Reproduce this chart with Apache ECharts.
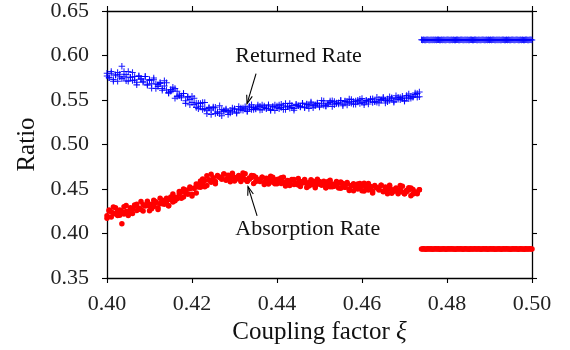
<!DOCTYPE html>
<html><head><meta charset="utf-8">
<script src="https://cdn.jsdelivr.net/npm/echarts@6/dist/echarts.min.js"></script>
<style>html,body{margin:0;padding:0;background:#fff}#c{width:570px;height:350px}</style>
</head><body><div id="c"></div>
<script>
// Coupling factor sweep (before the jump)
const xSweep = [
0.4000,0.4005,0.4010,0.4015,0.4020,0.4025,0.4030,0.4035,0.4040,0.4045,0.4050,0.4055,0.4060,0.4065,0.4070,0.4075,0.4080,0.4085,0.4090,0.4095,
0.4100,0.4105,0.4110,0.4115,0.4120,0.4125,0.4130,0.4135,0.4140,0.4145,0.4150,0.4155,0.4160,0.4165,0.4170,0.4175,0.4180,0.4185,0.4190,0.4195,
0.4200,0.4205,0.4210,0.4215,0.4220,0.4225,0.4230,0.4235,0.4240,0.4245,0.4250,0.4255,0.4260,0.4265,0.4270,0.4275,0.4280,0.4285,0.4290,0.4295,
0.4300,0.4305,0.4310,0.4315,0.4320,0.4325,0.4330,0.4335,0.4340,0.4345,0.4350,0.4355,0.4360,0.4365,0.4370,0.4375,0.4380,0.4385,0.4390,0.4395,
0.4400,0.4405,0.4410,0.4415,0.4420,0.4425,0.4430,0.4435,0.4440,0.4445,0.4450,0.4455,0.4460,0.4465,0.4470,0.4475,0.4480,0.4485,0.4490,0.4495,
0.4500,0.4505,0.4510,0.4515,0.4520,0.4525,0.4530,0.4535,0.4540,0.4545,0.4550,0.4555,0.4560,0.4565,0.4570,0.4575,0.4580,0.4585,0.4590,0.4595,
0.4600,0.4605,0.4610,0.4615,0.4620,0.4625,0.4630,0.4635,0.4640,0.4645,0.4650,0.4655,0.4660,0.4665,0.4670,0.4675,0.4680,0.4685,0.4690,0.4695,
0.4700,0.4705,0.4710,0.4715,0.4720,0.4725,0.4730,0.4735];

// Returned rate, two runs of the sweep
const returnedRunA = [
.580,.575,.582,.573,.578,.571,.579,.588,.576,.5715,
.582,.5755,.572,.5765,.567,.5773,.5737,.570,.5763,.5667,
.573,.5683,.5747,.563,.5673,.5687,.563,.5717,.5613,.558,
.5617,.5643,.552,.5598,.5547,.5545,.5573,.5492,.553,.5447,
.5543,.545,.5467,.5403,.546,.5472,.5403,.5345,.5417,.5388,
.542,.5348,.5357,.5435,.5323,.5382,.5388,.5367,.5353,.541,
.5395,.5351,.539,.5411,.5385,.5424,.5373,.5413,.5446,.5393,
.5406,.5425,.5389,.5444,.5415,.5404,.5435,.5382,.5424,.5443,
.5414,.5403,.5452,.5435,.5394,.5425,.5462,.5415,.5404,.5447,
.5436,.5426,.5464,.5418,.545,.5404,.5466,.5444,.5434,.5466,
.542,.5458,.549,.5432,.5452,.5472,.5492,.5446,.5466,.5456,
.5494,.5435,.549,.5479,.5468,.5505,.5452,.5489,.5478,.5461,
.5516,.547,.549,.5456,.5506,.5514,.5486,.5476,.5508,.5498,
.553,.5466,.551,.5494,.5526,.5486,.5548,.5508,.5528,.5518,
.549,.555,.5513,.5543,.5531,.5579,.5572,.5536];

const returnedRunB = [
.577,.575,.580,.571,.578,.581,.576,.574,.582,.5785,
.571,.5755,.581,.5725,.570,.5763,.5737,.571,.5763,.5677,
.572,.5633,.5727,.568,.5653,.5697,.561,.5657,.5693,.558,
.5597,.5613,.563,.5538,.5557,.5525,.5573,.5462,.554,.5507,
.5473,.552,.5417,.5463,.543,.5392,.5473,.5385,.5407,.5338,
.541,.5418,.5367,.5345,.5393,.5372,.540,.5337,.5383,.5368,
.5401,.5363,.5426,.5387,.5409,.540,.5373,.5431,.5392,.5417,
.540,.5443,.5431,.539,.5433,.5404,.5447,.5394,.5424,.5383,
.5432,.5445,.5416,.5393,.546,.5425,.5408,.5439,.5386,.5453,
.5436,.542,.5464,.5412,.5456,.5434,.5478,.5414,.5446,.546,
.5432,.5494,.5442,.5432,.5464,.549,.5426,.5482,.546,.5468,
.5494,.5453,.5484,.5443,.551,.5463,.5482,.5453,.5496,.5509,
.5474,.5446,.5496,.5486,.5512,.5472,.548,.553,.5466,.5504,
.5518,.5496,.548,.5536,.552,.5474,.5512,.5532,.5504,.5542,
.549,.5532,.5567,.5519,.5537,.5561,.553,.559];

// Absorption rate, two runs of the sweep
const absorptionRunA = [
.420,.4253,.4185,.4298,.422,.4253,.4205,.411,.430,.4246,
.4203,.4289,.4275,.4321,.4258,.4274,.436,.4254,.4318,.4341,
.4305,.4279,.4373,.4346,.427,.4337,.4373,.433,.4397,.4313,
.438,.4443,.4367,.440,.4443,.4397,.450,.4458,.4445,.4503,
.442,.4508,.4555,.4523,.452,.4613,.4595,.4538,.460,.4665,
.4594,.4583,.4644,.4631,.4617,.4668,.4606,.4646,.4582,.4662,
.463,.4612,.4651,.4585,.4631,.467,.4588,.4609,.4629,.465,
.4583,.4603,.4584,.4631,.455,.462,.4603,.4586,.4633,.4559,
.4606,.4588,.4562,.4632,.4566,.4588,.4538,.46,.4606,.4564,
.4546,.4585,.4568,.4607,.4518,.4573,.4548,.4587,.453,.4609,
.4552,.4574,.4556,.4514,.4584,.4526,.4556,.453,.4584,.4566,
.4508,.4562,.452,.4574,.45,.4538,.448,.4542,.4556,.4514,
.448,.4566,.4516,.449,.4528,.4454,.454,.4514,.4488,.4542,
.4468,.4522,.4488,.4542,.4452,.449,.4504,.4462,.454,.4466,
.4448,.4485,.4514,.4423,.4493,.4458,.4463,.4492];

const absorptionRunB = [
.417,.4263,.4245,.4228,.429,.4203,.4265,.4248,.422,.4316,
.4243,.4279,.4225,.4311,.4328,.4284,.427,.4324,.4308,.4361,
.4255,.4329,.4303,.4356,.429,.4397,.4333,.437,.4357,.4313,
.441,.4353,.4407,.439,.4473,.4467,.441,.4488,.4445,.4523,
.444,.4508,.4455,.4553,.459,.4553,.4525,.4648,.460,.4575,
.4626,.4559,.4652,.4631,.4609,.4668,.4598,.4654,.4622,.4678,
.459,.4628,.4643,.4601,.4679,.4606,.4588,.4625,.4653,.4562,
.4631,.4595,.460,.4631,.4574,.4612,.4555,.4642,.4577,.4599,
.4558,.4612,.4626,.4576,.4534,.4596,.4578,.4608,.455,.4556,
.4618,.4529,.4576,.4591,.4558,.4533,.4604,.4579,.4514,.4561,
.4584,.4542,.4588,.4514,.456,.4598,.4524,.4538,.456,.451,
.458,.4538,.452,.4558,.4484,.4538,.456,.4518,.45,.4562,
.4536,.4478,.4516,.4562,.4496,.4478,.4532,.4514,.4496,.4542,
.4476,.4514,.4448,.4526,.4492,.4474,.4512,.4446,.4492,.453,
.4448,.4469,.449,.4511,.4445,.4466,.4447,.4492];

// Coupling factor after the jump
const xFlat = [
0.47400,0.47425,0.47450,0.47475,0.47500,0.47525,0.47550,0.47575,0.47600,0.47625,0.47650,0.47675,
0.47700,0.47725,0.47750,0.47775,0.47800,0.47825,0.47850,0.47875,0.47900,0.47925,0.47950,0.47975,
0.48000,0.48025,0.48050,0.48075,0.48100,0.48125,0.48150,0.48175,0.48200,0.48225,0.48250,0.48275,
0.48300,0.48325,0.48350,0.48375,0.48400,0.48425,0.48450,0.48475,0.48500,0.48525,0.48550,0.48575,
0.48600,0.48625,0.48650,0.48675,0.48700,0.48725,0.48750,0.48775,0.48800,0.48825,0.48850,0.48875,
0.48900,0.48925,0.48950,0.48975,
0.49000,0.49025,0.49050,0.49075,0.49100,0.49125,0.49150,0.49175,0.49200,0.49225,0.49250,0.49275,
0.49300,0.49325,0.49350,0.49375,0.49400,0.49425,0.49450,0.49475,0.49500,0.49525,0.49550,0.49575,
0.49600,0.49625,0.49650,0.49675,0.49700,0.49725,0.49750,0.49775,0.49800,0.49825,0.49850,0.49875,
0.49900,0.49925,0.49950,0.49975,0.50000];

const returnedFlat = [
.6176,.6174,.6177,.6175,.6173,.6176,.6178,.6174,.6175,.6177,.6173,.6176,
.6175,.6177,.6174,.6176,.6178,.6173,.6175,.6176,.6174,.6177,.6175,.6173,
.6176,.6178,.6174,.6175,.6177,.6174,.6176,.6175,.6173,.6176,.6177,.6174,
.6175,.6178,.6176,.6173,.6175,.6177,.6174,.6176,.6175,.6173,.6177,.6176,
.6174,.6175,.6178,.6176,.6175,.6174,.6177,.6175,.6173,.6176,.6178,.6174,
.6175,.6177,.6173,.6176,
.6175,.6177,.6174,.6176,.6178,.6173,.6175,.6176,.6174,.6177,.6175,.6173,
.6176,.6178,.6174,.6175,.6177,.6174,.6176,.6175,.6173,.6176,.6177,.6174,
.6175,.6178,.6176,.6173,.6175,.6177,.6174,.6176,.6175,.6173,.6177,.6176,
.6174,.6175,.6178,.6176,.6175];

const absorptionFlat = [
.3827,.3825,.3828,.3826,.3824,.3827,.3829,.3825,.3826,.3828,.3824,.3827,
.3826,.3828,.3825,.3827,.3829,.3824,.3826,.3827,.3825,.3828,.3826,.3824,
.3827,.3829,.3825,.3826,.3828,.3825,.3827,.3826,.3824,.3827,.3828,.3825,
.3826,.3829,.3827,.3824,.3826,.3828,.3825,.3827,.3826,.3824,.3828,.3827,
.3825,.3826,.3829,.3827,.3826,.3825,.3828,.3826,.3824,.3827,.3829,.3825,
.3826,.3828,.3824,.3827,
.3826,.3828,.3825,.3827,.3829,.3824,.3826,.3827,.3825,.3828,.3826,.3824,
.3827,.3829,.3825,.3826,.3828,.3825,.3827,.3826,.3824,.3827,.3828,.3825,
.3826,.3829,.3827,.3824,.3826,.3828,.3825,.3827,.3826,.3824,.3828,.3827,
.3825,.3826,.3829,.3827,.3826];

// Annotations (data coordinates)
const annotationLabels = ['Returned Rate', 'Absorption Rate'];
const annotationTextAt = [[0.4302, 0.5993], [0.4302, 0.4053]];
const arrowFrom = [[0.43507, 0.5797], [0.43531, 0.4199]];
const arrowTo   = [[0.43295, 0.5459], [0.43318, 0.4526]];

const zip = (xs, ys) => xs.map((x, i) => [x, ys[i]]);

const SERIF = '"Liberation Serif", "Times New Roman", serif';
const PLUS = 'path://M4.2,0h1.6v4.2h4.2v1.6h-4.2v4.2h-1.6v-4.2h-4.2v-1.6h4.2z';
const BLUE = '#0000ff', RED = '#ff0000';

const axisLineStyle = { color: '#000', width: 1.3 };
const baseX = {
  type: 'value', min: 0.40, max: 0.50, interval: 0.02,
  splitLine: { show: false },
  axisLine: { show: true, onZero: false, lineStyle: axisLineStyle },
  axisTick: { show: true, inside: false, length: 5, lineStyle: { color: '#000', width: 1.1 } }
};
const baseY = {
  type: 'value', min: 0.35, max: 0.65, interval: 0.05,
  splitLine: { show: false },
  axisLine: { show: true, onZero: false, lineStyle: axisLineStyle },
  axisTick: { show: true, inside: false, length: 5, lineStyle: { color: '#000', width: 1.1 } }
};

const blueStyle = { symbol: PLUS, symbolSize: 6.5, itemStyle: { color: BLUE, opacity: 0.9 } };
const redStyle = { symbol: 'circle', symbolSize: 5.5, itemStyle: { color: RED, opacity: 1 } };
const mk = (name, data, st) => Object.assign({ name, type: 'scatter', xAxisIndex: 0, yAxisIndex: 0, data, clip: false }, st);

const option = {
  animation: false,
  backgroundColor: '#fff',
  grid: { left: 107, right: 38, top: 11, bottom: 72, containLabel: false },
  xAxis: [
    Object.assign({}, baseX, {
      position: 'bottom',
      name: 'Coupling factor {i|ξ}', nameLocation: 'middle', nameGap: 36,
      nameTextStyle: { fontFamily: SERIF, fontSize: 25, color: '#111',
        rich: { i: { fontFamily: SERIF, fontSize: 25, fontStyle: 'italic', color: '#111' } } },
      axisLabel: { show: true, margin: 15, fontFamily: SERIF, fontSize: 22, color: '#222',
        showMinLabel: true, showMaxLabel: true, formatter: v => v.toFixed(2) }
    }),
    Object.assign({}, baseX, { position: 'top', axisLabel: { show: false } })
  ],
  yAxis: [
    Object.assign({}, baseY, {
      position: 'left',
      name: 'Ratio', nameLocation: 'middle', nameGap: 64,
      nameTextStyle: { fontFamily: SERIF, fontSize: 25, color: '#111' },
      axisLabel: { show: true, margin: 18, fontFamily: SERIF, fontSize: 22, color: '#222',
        showMinLabel: true, showMaxLabel: true, formatter: v => v.toFixed(2) }
    }),
    Object.assign({}, baseY, { position: 'right', axisLabel: { show: false } })
  ],
  series: [
    mk('Returned Rate', zip(xSweep, returnedRunA), blueStyle),
    mk('Returned Rate B', zip(xSweep, returnedRunB), blueStyle),
    mk('Returned Rate after', zip(xFlat, returnedFlat), blueStyle),
    mk('Absorption Rate', zip(xSweep, absorptionRunA), redStyle),
    mk('Absorption Rate B', zip(xSweep, absorptionRunB), redStyle),
    mk('Absorption Rate after', zip(xFlat, absorptionFlat), redStyle)
  ]
};

const chart = echarts.init(document.getElementById('c'), null, { renderer: 'canvas' });
chart.setOption(option);

const g = [];
annotationLabels.forEach((t, k) => {
  const p = chart.convertToPixel({ seriesIndex: 0 }, annotationTextAt[k]);
  g.push({ type: 'text', x: p[0], y: p[1], z: 100,
    style: { text: t, fontFamily: SERIF, fontSize: 22, fill: '#111', align: 'left', verticalAlign: 'middle' } });
  const a = chart.convertToPixel({ seriesIndex: 0 }, arrowFrom[k]);
  const b = chart.convertToPixel({ seriesIndex: 0 }, arrowTo[k]);
  const ang = Math.atan2(b[1] - a[1], b[0] - a[0]);
  const L = 9, w = 0.33;
  const h1 = [b[0] - L * Math.cos(ang - w), b[1] - L * Math.sin(ang - w)];
  const h2 = [b[0] - L * Math.cos(ang + w), b[1] - L * Math.sin(ang + w)];
  g.push({ type: 'line', z: 100, shape: { x1: a[0], y1: a[1], x2: b[0], y2: b[1] },
    style: { stroke: '#000', lineWidth: 1.1 } });
  g.push({ type: 'polyline', z: 100, shape: { points: [h1, b, h2] },
    style: { stroke: '#000', lineWidth: 1.1, fill: null } });
});
chart.setOption({ graphic: g });
</script>
</body></html>
